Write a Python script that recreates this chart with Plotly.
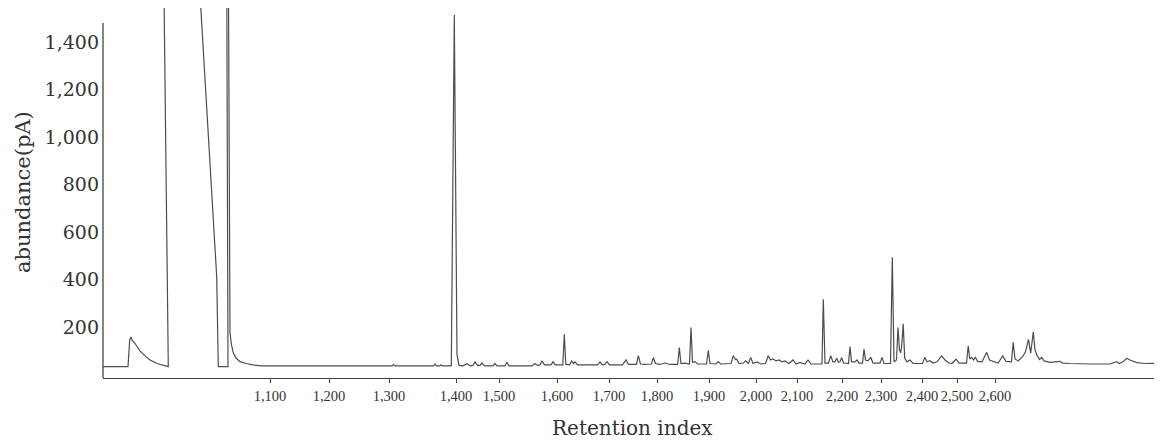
import plotly.graph_objects as go

# Chromatogram trace: retention time (min, arbitrary scale) and abundance (pA)
time_min = [
    0.00, 1.25, 1.335, 1.40, 1.475, 1.55, 1.65, 1.85, 2.10, 2.35, 2.70, 3.15, 3.265,
    3.05, 4.85, 5.685, 5.765, 6.25, 6.19, 6.275, 6.35, 6.425, 6.515, 6.65, 6.85, 7.15,
    7.50, 7.95, 9.85, 13.85, 14.45, 14.525, 14.60, 16.525, 16.60, 16.675, 16.825, 16.90,
    16.975, 17.415, 17.565, 17.70, 17.80, 18.00, 18.20, 18.35, 18.50, 18.60, 18.725,
    18.85, 18.95, 19.075, 19.50, 19.60, 19.70, 20.10, 20.20, 20.30, 21.45, 21.60,
    21.725, 21.85, 21.95, 22.075, 22.40, 22.50, 22.625, 22.99, 23.065, 23.14, 23.325,
    23.435, 23.525, 23.60, 23.725, 24.725, 24.85, 24.975, 25.10, 25.20, 25.325, 25.975,
    26.15, 26.275, 26.675, 26.765, 26.875, 27.05, 27.425, 27.515, 27.625, 27.85, 28.10,
    28.35, 28.735, 28.815, 28.90, 29.10, 29.325, 29.40, 29.475, 29.60, 29.725, 30.175,
    30.265, 30.35, 30.65, 30.765, 30.875, 31.40, 31.515, 31.625, 31.685, 31.80, 32.025,
    32.135, 32.275, 32.385, 32.50, 32.70, 32.90, 33.125, 33.265, 33.375, 33.50, 33.65,
    33.80, 33.95, 34.10, 34.30, 34.50, 34.65, 34.85, 35.10, 35.25, 35.40, 35.95, 36.015,
    36.10, 36.275, 36.385, 36.50, 36.60, 36.685, 36.775, 36.85, 36.935, 37.025, 37.275,
    37.35, 37.425, 37.60, 37.70, 37.80, 37.975, 38.05, 38.125, 38.25, 38.385, 38.50,
    38.85, 38.95, 39.05, 39.375, 39.465, 39.55, 39.675, 39.75, 39.825, 39.885, 39.94,
    40.01, 40.085, 40.20, 40.35, 40.50, 40.975, 41.09, 41.20, 41.35, 41.50, 41.70,
    41.935, 42.10, 42.30, 42.45, 42.65, 42.80, 43.175, 43.26, 43.34, 43.435, 43.525,
    43.625, 43.725, 43.95, 44.185, 44.325, 44.55, 44.75, 44.99, 45.15, 45.425, 45.51,
    45.60, 45.75, 45.985, 46.125, 46.275, 46.385, 46.515, 46.60, 46.70, 46.825, 46.935,
    47.05, 47.35, 47.835, 48.00, 48.35, 49.35, 50.35, 50.685, 50.80, 51.00, 51.185,
    51.35, 51.685, 52.10, 52.95,
]
abundance_pA = [
    33, 33, 145, 158, 141, 137, 124, 99, 78, 61, 46, 38, 33,
    1600, 1600, 412, 33, 33, 1600, 1600, 175, 124, 91, 69, 54, 46,
    40, 36, 36, 36, 36, 42, 36, 36, 44, 36, 36, 41,
    36, 36, 1513, 82, 38, 36, 45, 36, 38, 53, 38,
    38, 48, 36, 36, 46, 36, 36, 51, 36, 36, 46,
    38, 40, 57, 40, 40, 53, 40, 40, 169, 42, 40,
    57, 46, 53, 40, 40, 53, 40, 44, 54, 40, 40,
    61, 42, 42, 79, 44, 42, 44, 71, 46, 42, 48,
    42, 42, 113, 46, 48, 44, 198, 51, 54, 44, 44,
    100, 46, 44, 54, 44, 46, 79, 63, 64, 46, 48,
    57, 46, 72, 46, 53, 44, 46, 79, 61, 65, 57,
    61, 53, 57, 46, 61, 44, 51, 44, 61, 44, 44, 317,
    48, 48, 79, 53, 53, 68, 51, 53, 71, 48, 46,
    117, 53, 53, 61, 48, 48, 107, 61, 57, 72, 48,
    48, 72, 46, 46, 493, 53, 61, 198, 103, 91, 124,
    213, 69, 53, 61, 46, 46, 72, 53, 58, 48, 53,
    78, 61, 48, 46, 64, 48, 48, 120, 65, 72, 61,
    72, 55, 53, 93, 61, 53, 48, 78, 55, 53, 135,
    65, 57, 75, 95, 148, 89, 179, 103, 80, 63, 72,
    57, 51, 55, 48, 46, 44, 44, 54, 46, 53, 68,
    61, 50, 46, 47,
]

# Retention-index tick marks (placed at the retention times where they fall)
ri_tick_time = [8.35, 11.3, 14.3, 17.65, 19.8, 22.7, 25.3, 27.7, 30.3, 32.65,
                34.7, 36.95, 38.9, 40.95, 42.7, 44.6]
ri_tick_label = ["1,100", "1,200", "1,300", "1,400", "1,500", "1,600", "1,700",
                 "1,800", "1,900", "2,000", "2,100", "2,200", "2,300", "2,400",
                 "2,500", "2,600"]

y_tick_vals = [200, 400, 600, 800, 1000, 1200, 1400]
y_tick_labels = ["200", "400", "600", "800", "1,000", "1,200", "1,400"]

x_range = [0, 52.95]
y_range = [-15, 1543]
y_axis_top = 1480

ink = "#444444"
text_col = "#333333"

fig = go.Figure(
    go.Scatter(
        x=time_min, y=abundance_pA, mode="lines",
        line=dict(color="#4d4d4d", width=1.2),
        hoverinfo="skip", showlegend=False,
    )
)

# page body adds an 8px margin, so the figure is 8px smaller each way
fig.update_layout(
    width=1154, height=437,
    margin=dict(l=95, r=0, t=0, b=67),
    paper_bgcolor="white", plot_bgcolor="white",
    showlegend=False,
)

fig.update_xaxes(
    range=x_range, tickmode="array", tickvals=ri_tick_time, ticktext=ri_tick_label,
    ticks="outside", ticklen=4, tickwidth=1, tickcolor=ink,
    showline=True, linecolor=ink, linewidth=1.3,
    showgrid=False, zeroline=False, tickangle=0,
    tickfont=dict(family="Liberation Serif", size=14.5, color=text_col),
)
fig.update_yaxes(
    range=y_range, tickmode="array", tickvals=y_tick_vals, ticktext=y_tick_labels,
    ticks="", showline=False, showgrid=False, zeroline=False,
    tickfont=dict(family="DejaVu Serif", size=19, color=text_col),
    ticklabelstandoff=3,
)

fig.add_shape(type="line", xref="paper", yref="y", x0=0, x1=0, y0=y_range[0], y1=y_axis_top,
              line=dict(color=ink, width=1.3))

fig.add_annotation(text="abundance(pA)", xref="paper", yref="paper", x=-0.0755, y=0.503,
                   xanchor="center", yanchor="middle", textangle=-90, showarrow=False,
                   font=dict(family="DejaVu Serif", size=21, color=text_col))
fig.add_annotation(text="Retention index", xref="paper", yref="paper", x=0.5, y=-0.135,
                   xanchor="center", yanchor="middle", showarrow=False,
                   font=dict(family="DejaVu Serif", size=20, color=text_col))

fig.write_html("out.html")
